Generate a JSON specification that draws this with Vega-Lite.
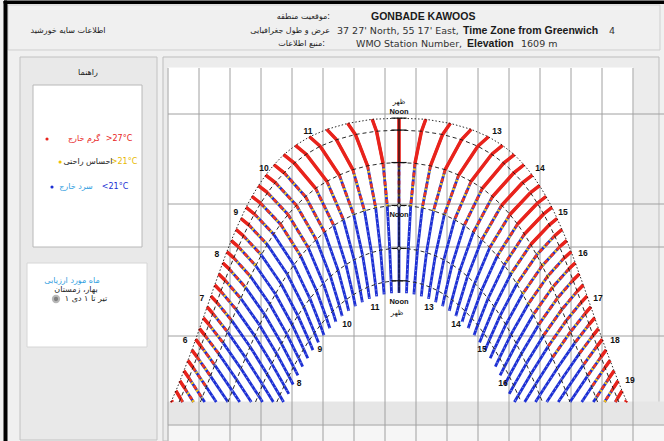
{
"$schema":"https://vega.github.io/schema/vega-lite/v6.json",
"width":664,"height":441,"padding":0,"autosize":{"type":"none"},
"background":"#f0f0f0",
"config":{"view":{"stroke":null},"axis":{"disable":true},"legend":{"disable":true}},
"datasets":{
"boxes":[
{"part":"header","x0":8,"x1":660,"y0":5,"y1":50},
{"part":"side","x0":20,"x1":157,"y0":57,"y1":440},
{"part":"legend","x0":33,"x1":142,"y0":85,"y1":247},
{"part":"month","x0":27,"x1":147,"y0":263,"y1":347},
{"part":"panel","x0":163,"x1":659,"y0":57,"y1":441},
{"part":"plot","x0":168,"x1":633,"y0":68,"y1":402},
{"part":"band","x0":168,"x1":664,"y0":402,"y1":425},
{"part":"foot","x0":168,"x1":664,"y0":425,"y1":441},
{"part":"ink","x0":4,"x1":7,"y0":1,"y1":441},
{"part":"ink","x0":4,"x1":664,"y0":1,"y1":3.5}
],
"grid":[
{"x0":168,"x1":168,"y0":68,"y1":441},{"x0":199,"x1":199,"y0":68,"y1":441},{"x0":230,"x1":230,"y0":68,"y1":441},{"x0":261,"x1":261,"y0":68,"y1":441},
{"x0":292,"x1":292,"y0":68,"y1":441},{"x0":323,"x1":323,"y0":68,"y1":441},{"x0":354,"x1":354,"y0":68,"y1":441},{"x0":385,"x1":385,"y0":68,"y1":441},
{"x0":416,"x1":416,"y0":68,"y1":441},{"x0":447,"x1":447,"y0":68,"y1":441},{"x0":478,"x1":478,"y0":68,"y1":441},{"x0":509,"x1":509,"y0":68,"y1":441},
{"x0":540,"x1":540,"y0":68,"y1":441},{"x0":571,"x1":571,"y0":68,"y1":441},{"x0":602,"x1":602,"y0":68,"y1":441},{"x0":633,"x1":633,"y0":68,"y1":441},
{"x0":168,"x1":664,"y0":114,"y1":114},{"x0":168,"x1":664,"y0":204,"y1":204},{"x0":168,"x1":664,"y0":247,"y1":247},
{"x0":168,"x1":664,"y0":336,"y1":336},{"x0":168,"x1":664,"y0":425,"y1":425}
],
"texts":[
{"label":"اطلاعات سایه خورشید","x":68,"y":31,"kind":"fa"},
{"label":"راهنما","x":88,"y":73,"kind":"fa"},
{"label":"گرم خارج","x":84,"y":139,"kind":"hot"},
{"label":">27°C","x":119,"y":139,"kind":"hot"},
{"label":"احساس راحتی","x":88,"y":162,"kind":"fa"},
{"label":">21°C","x":124,"y":162,"kind":"comfort"},
{"label":"سرد خارج","x":76,"y":187,"kind":"cyan"},
{"label":"<21°C","x":115,"y":187,"kind":"cold"},
{"label":"ماه مورد ارزیابی","x":72,"y":281,"kind":"cyan"},
{"label":"بهار، زمستان","x":76,"y":290,"kind":"fa"},
{"label":"۱ تیر تا ۱ دی","x":86,"y":299,"kind":"fa"},
{"label":"موقعیت منطقه:","x":330,"y":17,"kind":"faR"},
{"label":"عرض و طول جغرافیایی","x":330,"y":31,"kind":"faR"},
{"label":"منبع اطلاعات:","x":325,"y":44,"kind":"faR"},
{"label":"GONBADE KAWOOS","x":371,"y":17,"kind":"title"},
{"label":"37 27' North, 55 17' East,","x":337,"y":31,"kind":"en"},
{"label":"Time Zone from Greenwich","x":463,"y":31,"kind":"enB"},
{"label":"4","x":609,"y":31,"kind":"en"},
{"label":"WMO Station Number,","x":356,"y":44,"kind":"en"},
{"label":"Elevation","x":467,"y":44,"kind":"enB"},
{"label":"1609 m","x":521,"y":44,"kind":"en"}
],
"keys":[
{"cls":"hot","x":47,"y":139},{"cls":"comfort","x":60,"y":162},{"cls":"cold","x":52,"y":187},{"cls":"radio","x":56,"y":299}
],
"marks":[
{"label":"6","a":-112.6,"e":16.6,"kind":"hour"},{"label":"7","a":-103.7,"e":27.9,"kind":"hour"},{"label":"8","a":-95.8,"e":39.7,"kind":"hour"},
{"label":"9","a":-85.8,"e":50.9,"kind":"hour"},{"label":"10","a":-71.1,"e":62.7,"kind":"hour"},{"label":"11","a":-47.9,"e":72.65,"kind":"hour"},
{"label":"13","a":51.6,"e":72.65,"kind":"hour"},{"label":"14","a":74.2,"e":62.7,"kind":"hour"},{"label":"15","a":86.3,"e":50.9,"kind":"hour"},
{"label":"16","a":96.8,"e":39.9,"kind":"hour"},{"label":"17","a":104.7,"e":27.9,"kind":"hour"},{"label":"18","a":113.7,"e":16.6,"kind":"hour"},
{"label":"19","a":121.6,"e":5.9,"kind":"hour"},
{"label":"11","a":-12.6,"e":25.5,"kind":"hour"},{"label":"10","a":-27.4,"e":20.9,"kind":"hour"},{"label":"9","a":-41.6,"e":14.2,"kind":"hour"},{"label":"8","a":-52.6,"e":5.1,"kind":"hour"},
{"label":"13","a":15.8,"e":25.5,"kind":"hour"},{"label":"14","a":30,"e":20.9,"kind":"hour"},{"label":"15","a":43.7,"e":14.2,"kind":"hour"},{"label":"16","a":54.7,"e":5.1,"kind":"hour"},
{"label":"Noon","a":0,"e":77.7,"kind":"noon"},{"label":"ظهر","a":0,"e":80.3,"kind":"noonFa"},
{"label":"Noon","a":0,"e":50.1,"kind":"noon"},
{"label":"Noon","a":0,"e":26.8,"kind":"noon"},{"label":"ظهر","a":-1,"e":23.9,"kind":"noonFa"}
],
"sunpath":[
{"t":"12:00","dec":23.44,"a":0,"e":76.1,"z":"hot"},{"t":"12:00","dec":20.2,"a":0,"e":72.9,"z":"hot"},{"t":"12:00","dec":11.5,"a":0,"e":64.2,"z":"mix"},{"t":"12:00","dec":0,"a":0,"e":52.7,"z":"cold"},{"t":"12:00","dec":-11.5,"a":0,"e":41.2,"z":"cold"},{"t":"12:00","dec":-20.2,"a":0,"e":32.5,"z":"cold"},{"t":"12:00","dec":-23.44,"a":0,"e":29.26,"z":"cold"},

{"t":"11:45","dec":23.44,"a":-14.1,"e":75.8,"z":"hot"},{"t":"11:45","dec":20.2,"a":-11.84,"e":72.6,"z":"hot"},{"t":"11:45","dec":11.5,"a":-8.4,"e":63.98,"z":"mix"},{"t":"11:45","dec":0,"a":-6.17,"e":52.53,"z":"cold"},{"t":"11:45","dec":-11.5,"a":-4.88,"e":41.07,"z":"cold"},{"t":"11:45","dec":-20.2,"a":-4.17,"e":32.4,"z":"cold"},{"t":"11:45","dec":-23.44,"a":-3.94,"e":29.16,"z":"cold"},
{"t":"12:15","dec":23.44,"a":14.1,"e":75.8,"z":"hot"},{"t":"12:15","dec":20.2,"a":11.84,"e":72.6,"z":"hot"},{"t":"12:15","dec":11.5,"a":8.4,"e":63.98,"z":"mix"},{"t":"12:15","dec":0,"a":6.17,"e":52.53,"z":"cold"},{"t":"12:15","dec":-11.5,"a":4.88,"e":41.07,"z":"cold"},{"t":"12:15","dec":-20.2,"a":4.17,"e":32.4,"z":"cold"},{"t":"12:15","dec":-23.44,"a":3.94,"e":29.16,"z":"cold"},

{"t":"11:30","dec":23.44,"a":-27.0,"e":74.7,"z":"hot"},{"t":"11:30","dec":20.2,"a":-22.96,"e":71.72,"z":"hot"},{"t":"11:30","dec":11.5,"a":-16.56,"e":63.32,"z":"mix"},{"t":"11:30","dec":0,"a":-12.26,"e":52.05,"z":"cold"},{"t":"11:30","dec":-11.5,"a":-9.71,"e":40.69,"z":"cold"},{"t":"11:30","dec":-20.2,"a":-8.31,"e":32.07,"z":"cold"},{"t":"11:30","dec":-23.44,"a":-7.86,"e":28.86,"z":"cold"},
{"t":"12:30","dec":23.44,"a":27.0,"e":74.7,"z":"hot"},{"t":"12:30","dec":20.2,"a":22.96,"e":71.72,"z":"hot"},{"t":"12:30","dec":11.5,"a":16.56,"e":63.32,"z":"mix"},{"t":"12:30","dec":0,"a":12.26,"e":52.05,"z":"cold"},{"t":"12:30","dec":-11.5,"a":9.71,"e":40.69,"z":"cold"},{"t":"12:30","dec":-20.2,"a":8.31,"e":32.07,"z":"cold"},{"t":"12:30","dec":-23.44,"a":7.86,"e":28.86,"z":"cold"},

{"t":"11:15","dec":23.44,"a":-38.0,"e":73.1,"z":"hot"},{"t":"11:15","dec":20.2,"a":-32.9,"e":70.32,"z":"hot"},{"t":"11:15","dec":11.5,"a":-24.29,"e":62.29,"z":"mix"},{"t":"11:15","dec":0,"a":-18.17,"e":51.25,"z":"cold"},{"t":"11:15","dec":-11.5,"a":-14.47,"e":40.06,"z":"cold"},{"t":"11:15","dec":-20.2,"a":-12.4,"e":31.54,"z":"cold"},{"t":"11:15","dec":-23.44,"a":-11.73,"e":28.34,"z":"cold"},
{"t":"12:45","dec":23.44,"a":38.0,"e":73.1,"z":"hot"},{"t":"12:45","dec":20.2,"a":32.9,"e":70.32,"z":"hot"},{"t":"12:45","dec":11.5,"a":24.29,"e":62.29,"z":"mix"},{"t":"12:45","dec":0,"a":18.17,"e":51.25,"z":"cold"},{"t":"12:45","dec":-11.5,"a":14.47,"e":40.06,"z":"cold"},{"t":"12:45","dec":-20.2,"a":12.4,"e":31.54,"z":"cold"},{"t":"12:45","dec":-23.44,"a":11.73,"e":28.34,"z":"cold"},

{"t":"11:00","dec":23.44,"a":-47.1,"e":71.1,"z":"hot"},{"t":"11:00","dec":20.2,"a":-41.49,"e":68.57,"z":"hot"},{"t":"11:00","dec":11.5,"a":-31.43,"e":60.84,"z":"mix"},{"t":"11:00","dec":0,"a":-23.85,"e":50.21,"z":"cold"},{"t":"11:00","dec":-11.5,"a":-19.1,"e":39.2,"z":"cold"},{"t":"11:00","dec":-20.2,"a":-16.42,"e":30.79,"z":"cold"},{"t":"11:00","dec":-23.44,"a":-15.55,"e":27.64,"z":"cold"},
{"t":"13:00","dec":23.44,"a":47.1,"e":71.1,"z":"hot"},{"t":"13:00","dec":20.2,"a":41.49,"e":68.57,"z":"hot"},{"t":"13:00","dec":11.5,"a":31.43,"e":60.84,"z":"mix"},{"t":"13:00","dec":0,"a":23.85,"e":50.21,"z":"cold"},{"t":"13:00","dec":-11.5,"a":19.1,"e":39.2,"z":"cold"},{"t":"13:00","dec":-20.2,"a":16.42,"e":30.79,"z":"cold"},{"t":"13:00","dec":-23.44,"a":15.55,"e":27.64,"z":"cold"},

{"t":"10:45","dec":23.44,"a":-54.5,"e":68.8,"z":"hot"},{"t":"10:45","dec":20.2,"a":-48.84,"e":66.42,"z":"hot"},{"t":"10:45","dec":11.5,"a":-37.96,"e":59.17,"z":"mix"},{"t":"10:45","dec":0,"a":-29.26,"e":48.88,"z":"cold"},{"t":"10:45","dec":-11.5,"a":-23.6,"e":38.12,"z":"cold"},{"t":"10:45","dec":-20.2,"a":-20.35,"e":29.85,"z":"cold"},{"t":"10:45","dec":-23.44,"a":-19.28,"e":26.75,"z":"cold"},
{"t":"13:15","dec":23.44,"a":54.5,"e":68.8,"z":"hot"},{"t":"13:15","dec":20.2,"a":48.84,"e":66.42,"z":"hot"},{"t":"13:15","dec":11.5,"a":37.96,"e":59.17,"z":"mix"},{"t":"13:15","dec":0,"a":29.26,"e":48.88,"z":"cold"},{"t":"13:15","dec":-11.5,"a":23.6,"e":38.12,"z":"cold"},{"t":"13:15","dec":-20.2,"a":20.35,"e":29.85,"z":"cold"},{"t":"13:15","dec":-23.44,"a":19.28,"e":26.75,"z":"cold"},

{"t":"10:30","dec":23.44,"a":-60.7,"e":66.3,"z":"hot"},{"t":"10:30","dec":20.2,"a":-55.08,"e":64.04,"z":"hot"},{"t":"10:30","dec":11.5,"a":-43.88,"e":57.28,"z":"mix"},{"t":"10:30","dec":0,"a":-34.35,"e":47.33,"z":"cold"},{"t":"10:30","dec":-11.5,"a":-27.94,"e":36.82,"z":"cold"},{"t":"10:30","dec":-20.2,"a":-24.17,"e":28.72,"z":"cold"},{"t":"10:30","dec":-23.44,"a":-22.93,"e":25.69,"z":"cold"},
{"t":"13:30","dec":23.44,"a":60.7,"e":66.3,"z":"hot"},{"t":"13:30","dec":20.2,"a":55.08,"e":64.04,"z":"hot"},{"t":"13:30","dec":11.5,"a":43.88,"e":57.28,"z":"mix"},{"t":"13:30","dec":0,"a":34.35,"e":47.33,"z":"cold"},{"t":"13:30","dec":-11.5,"a":27.94,"e":36.82,"z":"cold"},{"t":"13:30","dec":-20.2,"a":24.17,"e":28.72,"z":"cold"},{"t":"13:30","dec":-23.44,"a":22.93,"e":25.69,"z":"cold"},

{"t":"10:15","dec":23.44,"a":-65.8,"e":63.6,"z":"hot"},{"t":"10:15","dec":20.2,"a":-60.44,"e":61.45,"z":"mix"},{"t":"10:15","dec":11.5,"a":-49.2,"e":55.04,"z":"mix"},{"t":"10:15","dec":0,"a":-39.14,"e":45.51,"z":"cold"},{"t":"10:15","dec":-11.5,"a":-32.09,"e":35.34,"z":"cold"},{"t":"10:15","dec":-20.2,"a":-27.87,"e":27.41,"z":"cold"},{"t":"10:15","dec":-23.44,"a":-26.47,"e":24.43,"z":"cold"},
{"t":"13:45","dec":23.44,"a":65.8,"e":63.6,"z":"hot"},{"t":"13:45","dec":20.2,"a":60.44,"e":61.45,"z":"hot"},{"t":"13:45","dec":11.5,"a":49.2,"e":55.04,"z":"mix"},{"t":"13:45","dec":0,"a":39.14,"e":45.51,"z":"cold"},{"t":"13:45","dec":-11.5,"a":32.09,"e":35.34,"z":"cold"},{"t":"13:45","dec":-20.2,"a":27.87,"e":27.41,"z":"cold"},{"t":"13:45","dec":-23.44,"a":26.47,"e":24.43,"z":"cold"},

{"t":"10:00","dec":23.44,"a":-70.2,"e":60.82,"z":"hot"},{"t":"10:00","dec":20.2,"a":-65.1,"e":58.84,"z":"mix"},{"t":"10:00","dec":11.5,"a":-54.03,"e":52.74,"z":"mix"},{"t":"10:00","dec":0,"a":-43.61,"e":43.55,"z":"cold"},{"t":"10:00","dec":-11.5,"a":-36.07,"e":33.66,"z":"cold"},{"t":"10:00","dec":-20.2,"a":-31.46,"e":25.94,"z":"cold"},{"t":"10:00","dec":-23.44,"a":-29.9,"e":23.02,"z":"cold"},
{"t":"14:00","dec":23.44,"a":70.2,"e":60.82,"z":"hot"},{"t":"14:00","dec":20.2,"a":65.1,"e":58.84,"z":"hot"},{"t":"14:00","dec":11.5,"a":54.03,"e":52.74,"z":"mix"},{"t":"14:00","dec":0,"a":43.61,"e":43.55,"z":"cold"},{"t":"14:00","dec":-11.5,"a":36.07,"e":33.66,"z":"cold"},{"t":"14:00","dec":-20.2,"a":31.46,"e":25.94,"z":"cold"},{"t":"14:00","dec":-23.44,"a":29.9,"e":23.02,"z":"cold"},

{"t":"09:45","dec":23.44,"a":-74.0,"e":58.0,"z":"hot"},{"t":"09:45","dec":20.2,"a":-69.19,"e":56.11,"z":"mix"},{"t":"09:45","dec":11.5,"a":-58.39,"e":50.26,"z":"mix"},{"t":"09:45","dec":0,"a":-47.79,"e":41.41,"z":"cold"},{"t":"09:45","dec":-11.5,"a":-39.85,"e":31.83,"z":"cold"},{"t":"09:45","dec":-20.2,"a":-34.9,"e":24.3,"z":"cold"},{"t":"09:45","dec":-23.44,"a":-33.2,"e":21.46,"z":"cold"},
{"t":"14:15","dec":23.44,"a":74.0,"e":58.0,"z":"hot"},{"t":"14:15","dec":20.2,"a":69.19,"e":56.11,"z":"hot"},{"t":"14:15","dec":11.5,"a":58.39,"e":50.26,"z":"mix"},{"t":"14:15","dec":0,"a":47.79,"e":41.41,"z":"cold"},{"t":"14:15","dec":-11.5,"a":39.85,"e":31.83,"z":"cold"},{"t":"14:15","dec":-20.2,"a":34.9,"e":24.3,"z":"cold"},{"t":"14:15","dec":-23.44,"a":33.2,"e":21.46,"z":"cold"},

{"t":"09:30","dec":23.44,"a":-77.4,"e":55.1,"z":"hot"},{"t":"09:30","dec":20.2,"a":-72.83,"e":53.28,"z":"mix"},{"t":"09:30","dec":11.5,"a":-62.35,"e":47.67,"z":"mix"},{"t":"09:30","dec":0,"a":-51.7,"e":39.12,"z":"cold"},{"t":"09:30","dec":-11.5,"a":-43.45,"e":29.84,"z":"cold"},{"t":"09:30","dec":-20.2,"a":-38.2,"e":22.52,"z":"cold"},{"t":"09:30","dec":-23.44,"a":-36.4,"e":19.76,"z":"cold"},
{"t":"14:30","dec":23.44,"a":77.4,"e":55.1,"z":"hot"},{"t":"14:30","dec":20.2,"a":72.83,"e":53.28,"z":"hot"},{"t":"14:30","dec":11.5,"a":62.35,"e":47.67,"z":"mix"},{"t":"14:30","dec":0,"a":51.7,"e":39.12,"z":"cold"},{"t":"14:30","dec":-11.5,"a":43.45,"e":29.84,"z":"cold"},{"t":"14:30","dec":-20.2,"a":38.2,"e":22.52,"z":"cold"},{"t":"14:30","dec":-23.44,"a":36.4,"e":19.76,"z":"cold"},

{"t":"09:15","dec":23.44,"a":-80.5,"e":52.2,"z":"hot"},{"t":"09:15","dec":20.2,"a":-76.12,"e":50.41,"z":"mix"},{"t":"09:15","dec":11.5,"a":-65.99,"e":44.99,"z":"cold"},{"t":"09:15","dec":0,"a":-55.36,"e":36.73,"z":"cold"},{"t":"09:15","dec":-11.5,"a":-46.88,"e":27.73,"z":"cold"},{"t":"09:15","dec":-20.2,"a":-41.38,"e":20.61,"z":"cold"},{"t":"09:15","dec":-23.44,"a":-39.5,"e":17.92,"z":"cold"},
{"t":"14:45","dec":23.44,"a":80.5,"e":52.2,"z":"hot"},{"t":"14:45","dec":20.2,"a":76.12,"e":50.41,"z":"hot"},{"t":"14:45","dec":11.5,"a":65.99,"e":44.99,"z":"mix"},{"t":"14:45","dec":0,"a":55.36,"e":36.73,"z":"cold"},{"t":"14:45","dec":-11.5,"a":46.88,"e":27.73,"z":"cold"},{"t":"14:45","dec":-20.2,"a":41.38,"e":20.61,"z":"cold"},{"t":"14:45","dec":-23.44,"a":39.5,"e":17.92,"z":"cold"},

{"t":"09:00","dec":23.44,"a":-83.2,"e":49.2,"z":"hot"},{"t":"09:00","dec":20.2,"a":-79.13,"e":47.5,"z":"mix"},{"t":"09:00","dec":11.5,"a":-69.34,"e":42.22,"z":"cold"},{"t":"09:00","dec":0,"a":-58.78,"e":34.23,"z":"cold"},{"t":"09:00","dec":-11.5,"a":-50.14,"e":25.5,"z":"cold"},{"t":"09:00","dec":-20.2,"a":-44.44,"e":18.58,"z":"cold"},{"t":"09:00","dec":-23.44,"a":-42.4,"e":15.97,"z":"cold"},
{"t":"15:00","dec":23.44,"a":83.2,"e":49.2,"z":"hot"},{"t":"15:00","dec":20.2,"a":79.13,"e":47.5,"z":"hot"},{"t":"15:00","dec":11.5,"a":69.34,"e":42.22,"z":"mix"},{"t":"15:00","dec":0,"a":58.78,"e":34.23,"z":"cold"},{"t":"15:00","dec":-11.5,"a":50.14,"e":25.5,"z":"cold"},{"t":"15:00","dec":-20.2,"a":44.44,"e":18.58,"z":"cold"},{"t":"15:00","dec":-23.44,"a":42.4,"e":15.97,"z":"cold"},

{"t":"08:45","dec":23.44,"a":-85.8,"e":46.25,"z":"hot"},{"t":"08:45","dec":20.2,"a":-81.91,"e":44.56,"z":"mix"},{"t":"08:45","dec":11.5,"a":-72.46,"e":39.41,"z":"cold"},{"t":"08:45","dec":0,"a":-62.0,"e":31.64,"z":"cold"},{"t":"08:45","dec":-11.5,"a":-53.25,"e":23.15,"z":"cold"},{"t":"08:45","dec":-20.2,"a":-47.37,"e":16.44,"z":"cold"},{"t":"08:45","dec":-23.44,"a":-45.3,"e":13.9,"z":"cold"},
{"t":"15:15","dec":23.44,"a":85.8,"e":46.25,"z":"hot"},{"t":"15:15","dec":20.2,"a":81.91,"e":44.56,"z":"mix"},{"t":"15:15","dec":11.5,"a":72.46,"e":39.41,"z":"mix"},{"t":"15:15","dec":0,"a":62.0,"e":31.64,"z":"cold"},{"t":"15:15","dec":-11.5,"a":53.25,"e":23.15,"z":"cold"},{"t":"15:15","dec":-20.2,"a":47.37,"e":16.44,"z":"cold"},{"t":"15:15","dec":-23.44,"a":45.3,"e":13.9,"z":"cold"},

{"t":"08:30","dec":23.44,"a":-88.3,"e":43.26,"z":"hot"},{"t":"08:30","dec":20.2,"a":-84.51,"e":41.6,"z":"mix"},{"t":"08:30","dec":11.5,"a":-75.37,"e":36.53,"z":"cold"},{"t":"08:30","dec":0,"a":-65.06,"e":28.96,"z":"cold"},{"t":"08:30","dec":-11.5,"a":-56.21,"e":20.72,"z":"cold"},{"t":"08:30","dec":-20.2,"a":-50.18,"e":14.19,"z":"cold"},{"t":"08:30","dec":-23.44,"a":-48.0,"e":11.73,"z":"cold"},
{"t":"15:30","dec":23.44,"a":88.3,"e":43.26,"z":"hot"},{"t":"15:30","dec":20.2,"a":84.51,"e":41.6,"z":"mix"},{"t":"15:30","dec":11.5,"a":75.37,"e":36.53,"z":"mix"},{"t":"15:30","dec":0,"a":65.06,"e":28.96,"z":"cold"},{"t":"15:30","dec":-11.5,"a":56.21,"e":20.72,"z":"cold"},{"t":"15:30","dec":-20.2,"a":50.18,"e":14.19,"z":"cold"},{"t":"15:30","dec":-23.44,"a":48.0,"e":11.73,"z":"cold"},

{"t":"08:15","dec":23.44,"a":-90.6,"e":40.3,"z":"hot"},{"t":"08:15","dec":20.2,"a":-86.98,"e":38.63,"z":"mix"},{"t":"08:15","dec":11.5,"a":-78.13,"e":33.64,"z":"cold"},{"t":"08:15","dec":0,"a":-67.96,"e":26.22,"z":"cold"},{"t":"08:15","dec":-11.5,"a":-59.06,"e":18.2,"z":"cold"},{"t":"08:15","dec":-20.2,"a":-52.88,"e":11.86,"z":"cold"},{"t":"08:15","dec":-23.44,"a":-50.7,"e":9.47,"z":"cold"},
{"t":"15:45","dec":23.44,"a":90.6,"e":40.3,"z":"hot"},{"t":"15:45","dec":20.2,"a":86.98,"e":38.63,"z":"mix"},{"t":"15:45","dec":11.5,"a":78.13,"e":33.64,"z":"mix"},{"t":"15:45","dec":0,"a":67.96,"e":26.22,"z":"cold"},{"t":"15:45","dec":-11.5,"a":59.06,"e":18.2,"z":"cold"},{"t":"15:45","dec":-20.2,"a":52.88,"e":11.86,"z":"cold"},{"t":"15:45","dec":-23.44,"a":50.7,"e":9.47,"z":"cold"},

{"t":"08:00","dec":23.44,"a":-92.8,"e":37.3,"z":"hot"},{"t":"08:00","dec":20.2,"a":-89.32,"e":35.64,"z":"mix"},{"t":"08:00","dec":11.5,"a":-80.74,"e":30.7,"z":"cold"},{"t":"08:00","dec":0,"a":-70.72,"e":23.44,"z":"cold"},{"t":"08:00","dec":-11.5,"a":-61.78,"e":15.61,"z":"cold"},{"t":"08:00","dec":-20.2,"a":-55.48,"e":9.44,"z":"cold"},{"t":"08:00","dec":-23.44,"a":-53.2,"e":7.12,"z":"cold"},
{"t":"16:00","dec":23.44,"a":92.8,"e":37.3,"z":"hot"},{"t":"16:00","dec":20.2,"a":89.32,"e":35.64,"z":"mix"},{"t":"16:00","dec":11.5,"a":80.74,"e":30.7,"z":"mix"},{"t":"16:00","dec":0,"a":70.72,"e":23.44,"z":"cold"},{"t":"16:00","dec":-11.5,"a":61.78,"e":15.61,"z":"cold"},{"t":"16:00","dec":-20.2,"a":55.48,"e":9.44,"z":"cold"},{"t":"16:00","dec":-23.44,"a":53.2,"e":7.12,"z":"cold"},

{"t":"07:45","dec":23.44,"a":-94.9,"e":34.3,"z":"hot"},{"t":"07:45","dec":20.2,"a":-91.58,"e":32.66,"z":"mix"},{"t":"07:45","dec":11.5,"a":-83.25,"e":27.75,"z":"cold"},{"t":"07:45","dec":0,"a":-73.36,"e":20.6,"z":"cold"},{"t":"07:45","dec":-11.5,"a":-64.4,"e":12.95,"z":"cold"},{"t":"07:45","dec":-20.2,"a":-57.99,"e":6.94,"z":"cold"},{"t":"07:45","dec":-23.44,"a":-55.7,"e":4.69,"z":"cold"},
{"t":"16:15","dec":23.44,"a":94.9,"e":34.3,"z":"hot"},{"t":"16:15","dec":20.2,"a":91.58,"e":32.66,"z":"mix"},{"t":"16:15","dec":11.5,"a":83.25,"e":27.75,"z":"mix"},{"t":"16:15","dec":0,"a":73.36,"e":20.6,"z":"cold"},{"t":"16:15","dec":-11.5,"a":64.4,"e":12.95,"z":"cold"},{"t":"16:15","dec":-20.2,"a":57.99,"e":6.94,"z":"cold"},{"t":"16:15","dec":-23.44,"a":55.7,"e":4.69,"z":"cold"},

{"t":"07:30","dec":23.44,"a":-97.0,"e":31.36,"z":"hot"},{"t":"07:30","dec":20.2,"a":-93.77,"e":29.67,"z":"mix"},{"t":"07:30","dec":11.5,"a":-85.67,"e":24.78,"z":"cold"},{"t":"07:30","dec":0,"a":-75.91,"e":17.72,"z":"cold"},{"t":"07:30","dec":-11.5,"a":-66.92,"e":10.23,"z":"cold"},{"t":"07:30","dec":-20.2,"a":-60.4,"e":4.38,"z":"cold"},{"t":"07:30","dec":-23.44,"a":-58.0,"e":2.19,"z":"cold"},
{"t":"16:30","dec":23.44,"a":97.0,"e":31.36,"z":"hot"},{"t":"16:30","dec":20.2,"a":93.77,"e":29.67,"z":"mix"},{"t":"16:30","dec":11.5,"a":85.67,"e":24.78,"z":"mix"},{"t":"16:30","dec":0,"a":75.91,"e":17.72,"z":"cold"},{"t":"16:30","dec":-11.5,"a":66.92,"e":10.23,"z":"cold"},{"t":"16:30","dec":-20.2,"a":60.4,"e":4.38,"z":"cold"},{"t":"16:30","dec":-23.44,"a":58.0,"e":2.19,"z":"cold"},

{"t":"07:15","dec":23.44,"a":-99.0,"e":28.4,"z":"hot"},{"t":"07:15","dec":20.2,"a":-95.9,"e":26.7,"z":"mix"},{"t":"07:15","dec":11.5,"a":-88.0,"e":21.81,"z":"cold"},{"t":"07:15","dec":0,"a":-78.38,"e":14.82,"z":"cold"},{"t":"07:15","dec":-11.5,"a":-69.36,"e":7.46,"z":"cold"},{"t":"07:15","dec":-20.2,"a":-62.76,"e":1.76,"z":"cold"},{"t":"07:15","dec":-22.88,"a":-60.74,"e":0,"z":"cold"},
{"t":"16:45","dec":23.44,"a":99.0,"e":28.4,"z":"hot"},{"t":"16:45","dec":20.2,"a":95.9,"e":26.7,"z":"mix"},{"t":"16:45","dec":11.5,"a":88.0,"e":21.81,"z":"mix"},{"t":"16:45","dec":0,"a":78.38,"e":14.82,"z":"cold"},{"t":"16:45","dec":-11.5,"a":69.36,"e":7.46,"z":"cold"},{"t":"16:45","dec":-20.2,"a":62.76,"e":1.76,"z":"cold"},{"t":"16:45","dec":-22.88,"a":60.74,"e":0,"z":"cold"},

{"t":"07:00","dec":23.44,"a":-101.0,"e":25.47,"z":"hot"},{"t":"07:00","dec":20.2,"a":-98.0,"e":23.74,"z":"mix"},{"t":"07:00","dec":11.5,"a":-90.3,"e":18.83,"z":"cold"},{"t":"07:00","dec":0,"a":-80.78,"e":11.89,"z":"cold"},{"t":"07:00","dec":-11.5,"a":-71.74,"e":4.65,"z":"cold"},{"t":"07:00","dec":-18.77,"a":-66.14,"e":0,"z":"cold"},
{"t":"17:00","dec":23.44,"a":101.0,"e":25.47,"z":"hot"},{"t":"17:00","dec":20.2,"a":98.0,"e":23.74,"z":"mix"},{"t":"17:00","dec":11.5,"a":90.3,"e":18.83,"z":"mix"},{"t":"17:00","dec":0,"a":80.78,"e":11.89,"z":"cold"},{"t":"17:00","dec":-11.5,"a":71.74,"e":4.65,"z":"cold"},{"t":"17:00","dec":-18.77,"a":66.14,"e":0,"z":"cold"},

{"t":"06:45","dec":23.44,"a":-103.0,"e":22.55,"z":"hot"},{"t":"06:45","dec":20.2,"a":-100.09,"e":20.8,"z":"mix"},{"t":"06:45","dec":11.5,"a":-92.55,"e":15.84,"z":"cold"},{"t":"06:45","dec":0,"a":-83.13,"e":8.93,"z":"cold"},{"t":"06:45","dec":-11.5,"a":-74.07,"e":1.79,"z":"cold"},{"t":"06:45","dec":-14.36,"a":-71.83,"e":0,"z":"cold"},
{"t":"17:15","dec":23.44,"a":103.0,"e":22.55,"z":"hot"},{"t":"17:15","dec":20.2,"a":100.09,"e":20.8,"z":"mix"},{"t":"17:15","dec":11.5,"a":92.55,"e":15.84,"z":"cold"},{"t":"17:15","dec":0,"a":83.13,"e":8.93,"z":"cold"},{"t":"17:15","dec":-11.5,"a":74.07,"e":1.79,"z":"cold"},{"t":"17:15","dec":-14.36,"a":71.83,"e":0,"z":"cold"},

{"t":"06:30","dec":23.44,"a":-105.0,"e":19.66,"z":"hot"},{"t":"06:30","dec":20.2,"a":-102.16,"e":17.87,"z":"mix"},{"t":"06:30","dec":11.5,"a":-94.77,"e":12.87,"z":"cold"},{"t":"06:30","dec":0,"a":-85.44,"e":5.96,"z":"cold"},{"t":"06:30","dec":-9.72,"a":-77.75,"e":0,"z":"cold"},
{"t":"17:30","dec":23.44,"a":105.0,"e":19.66,"z":"hot"},{"t":"17:30","dec":20.2,"a":102.16,"e":17.87,"z":"mix"},{"t":"17:30","dec":11.5,"a":94.77,"e":12.87,"z":"cold"},{"t":"17:30","dec":0,"a":85.44,"e":5.96,"z":"cold"},{"t":"17:30","dec":-9.72,"a":77.75,"e":0,"z":"cold"},

{"t":"06:15","dec":23.44,"a":-107.0,"e":16.79,"z":"hot"},{"t":"06:15","dec":20.2,"a":-104.23,"e":14.96,"z":"mix"},{"t":"06:15","dec":11.5,"a":-96.98,"e":9.9,"z":"cold"},{"t":"06:15","dec":0,"a":-87.73,"e":2.98,"z":"cold"},{"t":"06:15","dec":-4.91,"a":-83.82,"e":0,"z":"cold"},
{"t":"17:45","dec":23.44,"a":107.0,"e":16.79,"z":"hot"},{"t":"17:45","dec":20.2,"a":104.23,"e":14.96,"z":"mix"},{"t":"17:45","dec":11.5,"a":96.98,"e":9.9,"z":"cold"},{"t":"17:45","dec":0,"a":87.73,"e":2.98,"z":"cold"},{"t":"17:45","dec":-4.91,"a":83.82,"e":0,"z":"cold"},

{"t":"06:00","dec":23.44,"a":-109.0,"e":13.95,"z":"hot"},{"t":"06:00","dec":20.2,"a":-106.31,"e":12.08,"z":"mix"},{"t":"06:00","dec":11.5,"a":-99.2,"e":6.94,"z":"cold"},{"t":"06:00","dec":0,"a":-90,"e":0,"z":"cold"},
{"t":"18:00","dec":23.44,"a":109.0,"e":13.95,"z":"hot"},{"t":"18:00","dec":20.2,"a":106.31,"e":12.08,"z":"mix"},{"t":"18:00","dec":11.5,"a":99.2,"e":6.94,"z":"cold"},{"t":"18:00","dec":0,"a":90,"e":0,"z":"cold"},

{"t":"05:45","dec":23.44,"a":-111.1,"e":11.15,"z":"hot"},{"t":"05:45","dec":20.2,"a":-108.42,"e":9.24,"z":"mix"},{"t":"05:45","dec":11.5,"a":-101.4,"e":4.0,"z":"cold"},{"t":"05:45","dec":4.91,"a":-96.18,"e":0,"z":"cold"},
{"t":"18:15","dec":23.44,"a":111.1,"e":11.15,"z":"hot"},{"t":"18:15","dec":20.2,"a":108.42,"e":9.24,"z":"mix"},{"t":"18:15","dec":11.5,"a":101.4,"e":4.0,"z":"cold"},{"t":"18:15","dec":4.91,"a":96.18,"e":0,"z":"cold"},

{"t":"05:30","dec":23.44,"a":-113.2,"e":8.39,"z":"hot"},{"t":"05:30","dec":20.2,"a":-110.56,"e":6.42,"z":"mix"},{"t":"05:30","dec":11.5,"a":-103.7,"e":1.09,"z":"cold"},{"t":"05:30","dec":9.72,"a":-102.25,"e":0,"z":"cold"},
{"t":"18:30","dec":23.44,"a":113.2,"e":8.39,"z":"hot"},{"t":"18:30","dec":20.2,"a":110.56,"e":6.42,"z":"mix"},{"t":"18:30","dec":11.5,"a":103.7,"e":1.09,"z":"cold"},{"t":"18:30","dec":9.72,"a":102.25,"e":0,"z":"cold"},

{"t":"05:15","dec":23.44,"a":-115.3,"e":5.66,"z":"hot"},{"t":"05:15","dec":20.2,"a":-112.73,"e":3.65,"z":"mix"},{"t":"05:15","dec":14.36,"a":-108.17,"e":0,"z":"cold"},
{"t":"18:45","dec":23.44,"a":115.3,"e":5.66,"z":"hot"},{"t":"18:45","dec":20.2,"a":112.73,"e":3.65,"z":"mix"},{"t":"18:45","dec":14.36,"a":108.17,"e":0,"z":"cold"},

{"t":"05:00","dec":23.44,"a":-117.4,"e":2.99,"z":"hot"},{"t":"05:00","dec":20.2,"a":-114.95,"e":0.92,"z":"mix"},{"t":"05:00","dec":18.77,"a":-113.86,"e":0,"z":"cold"},
{"t":"19:00","dec":23.44,"a":117.4,"e":2.99,"z":"hot"},{"t":"19:00","dec":20.2,"a":114.95,"e":0.92,"z":"mix"},{"t":"19:00","dec":18.77,"a":113.86,"e":0,"z":"cold"},

{"t":"04:45","dec":23.44,"a":-119.68,"e":0.37,"z":"hot"},{"t":"04:45","dec":22.87,"a":-119.25,"e":0,"z":"cold"},
{"t":"19:15","dec":23.44,"a":119.68,"e":0.37,"z":"hot"},{"t":"19:15","dec":22.87,"a":119.25,"e":0,"z":"cold"},

{"t":"rise","dec":23.44,"a":-120,"e":0,"z":"cold"},{"t":"rise","dec":20.2,"a":-115.7,"e":0,"z":"cold"},{"t":"rise","dec":11.5,"a":-104.5,"e":0,"z":"cold"},{"t":"rise","dec":-11.5,"a":-75.5,"e":0,"z":"cold"},{"t":"rise","dec":-20.2,"a":-64.3,"e":0,"z":"cold"},
{"t":"set","dec":23.44,"a":120,"e":0,"z":"cold"},{"t":"set","dec":20.2,"a":115.7,"e":0,"z":"cold"},{"t":"set","dec":11.5,"a":104.5,"e":0,"z":"cold"},{"t":"set","dec":-11.5,"a":75.5,"e":0,"z":"cold"},{"t":"set","dec":-20.2,"a":64.3,"e":0,"z":"cold"}
]
},
"layer":[
{
"layer":[
{"data":{"name":"boxes"},"mark":{"type":"rect","strokeWidth":1},
 "encoding":{
  "x":{"field":"x0","type":"quantitative","scale":{"domain":[0,664],"nice":false,"zero":false}},"x2":{"field":"x1"},
  "y":{"field":"y0","type":"quantitative","scale":{"domain":[0,441],"nice":false,"zero":false,"reverse":true}},"y2":{"field":"y1"},
  "fill":{"field":"part","type":"nominal","scale":{"domain":["header","side","legend","month","panel","plot","band","foot","ink"],"range":["#f0f0f0","#e9e9e9","#ffffff","#ffffff","#ececec","#ffffff","#e6e6e6","#f6f6f6","#000000"]}},
  "stroke":{"field":"part","type":"nominal","scale":{"domain":["header","side","legend","month","panel","plot","band","foot","ink"],"range":["#cfcfcf","#c2c2c2","#b8b8b8","#d6d6d6","#bdbdbd","#ffffff","#e6e6e6","#f6f6f6","#000000"]}}
 }},
{"data":{"name":"grid"},"mark":{"type":"rule","color":"#a0a0a0","strokeWidth":1},
 "encoding":{
  "x":{"field":"x0","type":"quantitative","scale":{"domain":[0,664],"nice":false,"zero":false}},"x2":{"field":"x1"},
  "y":{"field":"y0","type":"quantitative","scale":{"domain":[0,441],"nice":false,"zero":false,"reverse":true}},"y2":{"field":"y1"}
 }},
{"data":{"name":"keys"},"transform":[{"filter":"datum.cls != 'radio'"}],"mark":{"type":"circle","size":10,"opacity":1},
 "encoding":{
  "x":{"field":"x","type":"quantitative","scale":{"domain":[0,664],"nice":false,"zero":false}},
  "y":{"field":"y","type":"quantitative","scale":{"domain":[0,441],"nice":false,"zero":false,"reverse":true}},
  "color":{"field":"cls","type":"nominal","scale":{"domain":["hot","comfort","cold"],"range":["#e8231c","#f2c300","#1c2fd4"]}}
 }},
{"data":{"name":"keys"},"transform":[{"filter":"datum.cls == 'radio'"}],"mark":{"type":"point","shape":"circle","size":40,"filled":true,"fill":"#4a4a4a","stroke":"#9a9a9a","strokeWidth":2},
 "encoding":{
  "x":{"field":"x","type":"quantitative","scale":{"domain":[0,664],"nice":false,"zero":false}},
  "y":{"field":"y","type":"quantitative","scale":{"domain":[0,441],"nice":false,"zero":false,"reverse":true}}
 }},
{"data":{"name":"texts"},"transform":[{"filter":"datum.kind == 'fa' || datum.kind == 'hot' || datum.kind == 'comfort' || datum.kind == 'cold' || datum.kind == 'cyan'"}],
 "mark":{"type":"text","font":"DejaVu Sans","fontSize":8,"align":"center","baseline":"middle"},
 "encoding":{
  "x":{"field":"x","type":"quantitative","scale":{"domain":[0,664],"nice":false,"zero":false}},
  "y":{"field":"y","type":"quantitative","scale":{"domain":[0,441],"nice":false,"zero":false,"reverse":true}},
  "text":{"field":"label"},
  "color":{"field":"kind","type":"nominal","scale":{"domain":["fa","hot","comfort","cold","cyan"],"range":["#1a1a1a","#e8231c","#e8b800","#1c2fd4","#2f9ee0"]}}
 }},
{"data":{"name":"texts"},"transform":[{"filter":"datum.kind == 'faR'"}],
 "mark":{"type":"text","font":"DejaVu Sans","fontSize":8,"align":"right","baseline":"middle","color":"#1a1a1a"},
 "encoding":{
  "x":{"field":"x","type":"quantitative","scale":{"domain":[0,664],"nice":false,"zero":false}},
  "y":{"field":"y","type":"quantitative","scale":{"domain":[0,441],"nice":false,"zero":false,"reverse":true}},
  "text":{"field":"label"}
 }},
{"data":{"name":"texts"},"transform":[{"filter":"datum.kind == 'title'"}],
 "mark":{"type":"text","font":"Liberation Sans","fontSize":10.5,"fontWeight":"bold","align":"left","baseline":"middle","color":"#1a1a1a"},
 "encoding":{
  "x":{"field":"x","type":"quantitative","scale":{"domain":[0,664],"nice":false,"zero":false}},
  "y":{"field":"y","type":"quantitative","scale":{"domain":[0,441],"nice":false,"zero":false,"reverse":true}},
  "text":{"field":"label"}
 }},
{"data":{"name":"texts"},"transform":[{"filter":"datum.kind == 'en'"}],
 "mark":{"type":"text","font":"DejaVu Sans","fontSize":9.5,"align":"left","baseline":"middle","color":"#333333"},
 "encoding":{
  "x":{"field":"x","type":"quantitative","scale":{"domain":[0,664],"nice":false,"zero":false}},
  "y":{"field":"y","type":"quantitative","scale":{"domain":[0,441],"nice":false,"zero":false,"reverse":true}},
  "text":{"field":"label"}
 }},
{"data":{"name":"texts"},"transform":[{"filter":"datum.kind == 'enB'"}],
 "mark":{"type":"text","font":"Liberation Sans","fontSize":10.5,"fontWeight":"bold","align":"left","baseline":"middle","color":"#1a1a1a"},
 "encoding":{
  "x":{"field":"x","type":"quantitative","scale":{"domain":[0,664],"nice":false,"zero":false}},
  "y":{"field":"y","type":"quantitative","scale":{"domain":[0,441],"nice":false,"zero":false,"reverse":true}},
  "text":{"field":"label"}
 }}
],
"resolve":{"scale":{"color":"independent","fill":"independent","stroke":"independent"}}
},
{
"data":{"name":"sunpath"},
"layer":[
{"transform":[
  {"filter":"datum.t != 'rise' && datum.t != 'set'"},
  {"window":[{"op":"lead","field":"a","as":"a2"},{"op":"lead","field":"e","as":"e2"}],"groupby":["t"],"sort":[{"field":"dec","order":"descending"}]},
  {"filter":"datum.a2 != null"}],
 "encoding":{
  "x":{"field":"a","type":"quantitative","scale":{"domain":[-210,139.474],"nice":false,"zero":false}},"x2":{"field":"a2"},
  "y":{"field":"e","type":"quantitative","scale":{"domain":[-10.456,107.775],"nice":false,"zero":false}},"y2":{"field":"e2"}
 },
 "layer":[
  {"mark":{"type":"rule","strokeWidth":2.8},
   "encoding":{"color":{"field":"z","type":"nominal","scale":{"domain":["hot","mix","cold"],"range":["#e8231c","#1c2fd4","#1c2fd4"]}}}},
  {"transform":[{"filter":"datum.z == 'hot'"}],"mark":{"type":"rule","strokeWidth":3.4,"color":"#e8231c"}},
  {"transform":[{"filter":"datum.z == 'mix'"}],"mark":{"type":"rule","strokeWidth":2.8,"strokeDash":[4,5],"color":"#ef3b1f"}},
  {"transform":[{"filter":"datum.z == 'mix'"}],"mark":{"type":"rule","strokeWidth":2.8,"strokeDash":[2,7],"strokeDashOffset":-5,"color":"#f7c21a"}},
  {"transform":[{"filter":"datum.z == 'cold'"}],"mark":{"type":"rule","strokeWidth":1.2,"strokeDash":[1,4],"color":"#ffffff","opacity":0.55}}
 ]},
{"transform":[{"filter":{"field":"dec","oneOf":[20.2,11.5,0,-11.5,-20.2]}}],
 "mark":{"type":"line","color":"#111111","strokeWidth":0.9,"strokeDash":[4,3]},
 "encoding":{
  "x":{"field":"a","type":"quantitative","scale":{"domain":[-210,139.474],"nice":false,"zero":false}},
  "y":{"field":"e","type":"quantitative","scale":{"domain":[-10.456,107.775],"nice":false,"zero":false}},
  "detail":{"field":"dec","type":"nominal"}
 }},
{"transform":[{"filter":"datum.dec == 23.44"}],
 "mark":{"type":"line","color":"#111111","strokeWidth":0.9,"strokeDash":[1.5,2]},
 "encoding":{
  "x":{"field":"a","type":"quantitative","scale":{"domain":[-210,139.474],"nice":false,"zero":false}},
  "y":{"field":"e","type":"quantitative","scale":{"domain":[-10.456,107.775],"nice":false,"zero":false}}
 }},
{"transform":[{"filter":"datum.t == '12:00'"}],
 "mark":{"type":"line","color":"#111111","strokeWidth":1.2},
 "encoding":{
  "x":{"field":"a","type":"quantitative","scale":{"domain":[-210,139.474],"nice":false,"zero":false}},
  "y":{"field":"e","type":"quantitative","scale":{"domain":[-10.456,107.775],"nice":false,"zero":false}},
  "order":{"field":"e","type":"quantitative"}
 }},
{"transform":[{"filter":"datum.t == '12:00' && datum.dec > -23"}],
 "mark":{"type":"rule","color":"#111111","strokeWidth":1.2},
 "encoding":{
  "x":{"datum":-4,"type":"quantitative","scale":{"domain":[-210,139.474],"nice":false,"zero":false}},
  "x2":{"datum":4},
  "y":{"field":"e","type":"quantitative","scale":{"domain":[-10.456,107.775],"nice":false,"zero":false}}
 }},
{"transform":[{"filter":"datum.t == '12:00' && (datum.dec == 0 || datum.dec == -11.5)"}],
 "mark":{"type":"point","shape":"circle","size":14,"filled":true,"fill":"#ffffff","stroke":"#111111","strokeWidth":1},
 "encoding":{
  "x":{"field":"a","type":"quantitative","scale":{"domain":[-210,139.474],"nice":false,"zero":false}},
  "y":{"field":"e","type":"quantitative","scale":{"domain":[-10.456,107.775],"nice":false,"zero":false}}
 }},
{"data":{"name":"marks"},"transform":[{"filter":"datum.kind == 'hour'"}],
 "mark":{"type":"text","font":"Liberation Sans","fontSize":8.5,"fontWeight":"bold","align":"center","baseline":"middle","color":"#111111"},
 "encoding":{
  "x":{"field":"a","type":"quantitative","scale":{"domain":[-210,139.474],"nice":false,"zero":false}},
  "y":{"field":"e","type":"quantitative","scale":{"domain":[-10.456,107.775],"nice":false,"zero":false}},
  "text":{"field":"label"}
 }},
{"data":{"name":"marks"},"transform":[{"filter":"datum.kind == 'noon'"}],
 "mark":{"type":"text","font":"Liberation Sans","fontSize":7.5,"fontWeight":"bold","align":"center","baseline":"middle","color":"#111111"},
 "encoding":{
  "x":{"field":"a","type":"quantitative","scale":{"domain":[-210,139.474],"nice":false,"zero":false}},
  "y":{"field":"e","type":"quantitative","scale":{"domain":[-10.456,107.775],"nice":false,"zero":false}},
  "text":{"field":"label"}
 }},
{"data":{"name":"marks"},"transform":[{"filter":"datum.kind == 'noonFa'"}],
 "mark":{"type":"text","font":"DejaVu Sans","fontSize":7,"align":"center","baseline":"middle","color":"#111111"},
 "encoding":{
  "x":{"field":"a","type":"quantitative","scale":{"domain":[-210,139.474],"nice":false,"zero":false}},
  "y":{"field":"e","type":"quantitative","scale":{"domain":[-10.456,107.775],"nice":false,"zero":false}},
  "text":{"field":"label"}
 }}
]
}
],
"resolve":{"scale":{"x":"independent","y":"independent","color":"independent"}}
}
